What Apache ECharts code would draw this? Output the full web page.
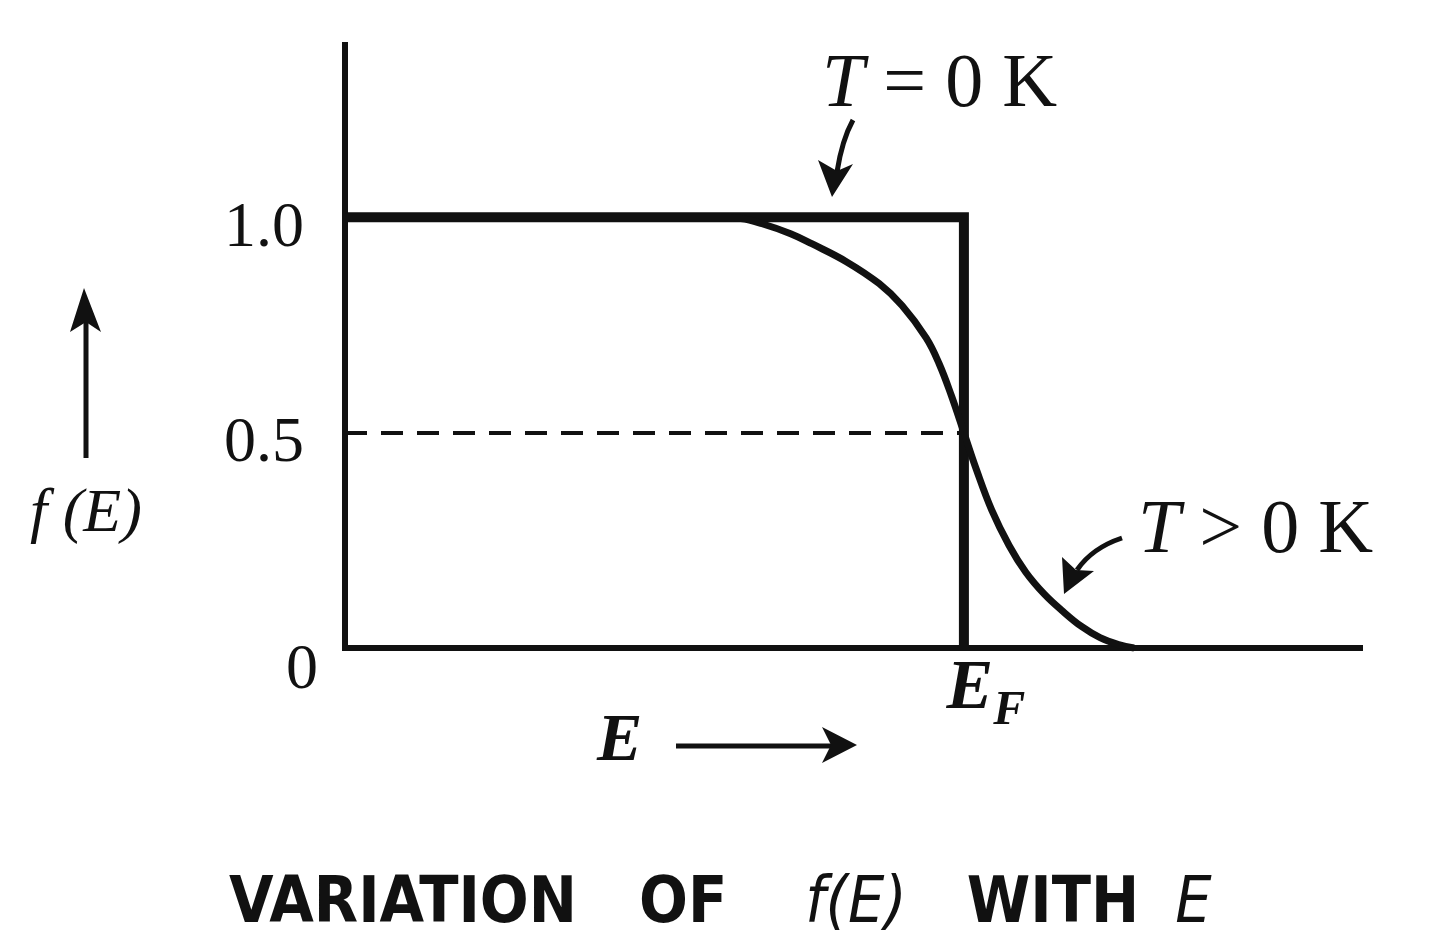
<!DOCTYPE html>
<html>
<head>
<meta charset="utf-8">
<title>VARIATION OF f(E) WITH E</title>
<script src="https://cdn.jsdelivr.net/npm/echarts@6/dist/echarts.min.js"></script>
<style>
  html, body { margin: 0; padding: 0; background: #fff; }
  #chart { width: 1440px; height: 944px; }
</style>
</head>
<body>
<div id="chart"></div>
<script>
// energy in units of the Fermi level
const fermiLevel = 1.0;
const energyMax = 1.64;
const occupancyMax = 1.4;

// T = 0 K : step
const stepEnergy = [0, 1.0, 1.0];
const stepOccupancy = [1.0, 1.0, 0];

// T > 0 K
const warmEnergy = [0, 0.45, 0.6, 0.64, 0.674, 0.72, 0.755, 0.81, 0.863, 0.9, 0.939, 0.96, 0.98, 1.0, 1.02, 1.045, 1.073, 1.1, 1.13, 1.16, 1.19, 1.22, 1.25, 1.275];
const warmOccupancy = [1.0, 1.0, 1.0, 0.997, 0.985, 0.962, 0.938, 0.897, 0.846, 0.795, 0.72, 0.66, 0.585, 0.5, 0.415, 0.32, 0.238, 0.176, 0.125, 0.085, 0.05, 0.024, 0.008, 0];

const yTicks = [0, 0.5, 1.0];
const halfLevel = 0.5;

const ink = '#111';
const serif = "'Liberation Serif', 'DejaVu Serif', serif";
const sans = "'DejaVu Sans Condensed', 'DejaVu Sans', sans-serif";

const chart = echarts.init(document.getElementById('chart'));

const zip = (xs, ys) => xs.map((x, i) => [x, ys[i]]);

// caption word style: font + gap after the word
const word = (gap, italic) => ({
	fontFamily: sans,
	fontSize: 64,
	fontWeight: italic ? 'normal' : 'bold',
	fontStyle: italic ? 'italic' : 'normal',
	color: ink,
	padding: [0, gap, 0, 0],
});

const option = {
	backgroundColor: '#fff',
	animation: false,
	title: {
		left: 224,
		top: 868,
		text: '{v|VARIATION}{o|OF}{fe|f(E)}{w|WITH}{e|E}',
		textStyle: {
			rich: {
				v: word(62, false),
				o: word(78, false),
				fe: word(60, true),
				w: word(36, false),
				e: word(0, true),
			},
		},
	},
	grid: {
		left: 345,
		right: 80,
		top: 45,
		bottom: 296,
	},
	xAxis: {
		type: 'value',
		min: 0,
		max: energyMax,
		axisLine: { show: true, lineStyle: { color: ink, width: 6, cap: 'square' } },
		axisTick: { show: false },
		splitLine: { show: false },
		axisLabel: {
			customValues: [fermiLevel],
			margin: -4,
			formatter: () => '{e|E}{s|F}',
			rich: {
				e: { fontFamily: serif, fontSize: 70, fontStyle: 'italic', fontWeight: 'bold', color: ink, padding: [0, 0, 0, 44] },
				s: { fontFamily: serif, fontSize: 48, fontStyle: 'italic', fontWeight: 'bold', color: ink, padding: [44, 0, 0, 0] },
			},
		},
	},
	yAxis: {
		type: 'value',
		min: 0,
		max: occupancyMax,
		axisLine: { show: true, lineStyle: { color: ink, width: 6, cap: 'square' } },
		axisTick: { show: false },
		splitLine: { show: false },
		axisLabel: {
			customValues: yTicks,
			margin: 27,
			formatter: (v) => (v === 0 ? '{z|0}' : '{n|' + v.toFixed(1) + '}'),
			rich: {
				n: { fontFamily: serif, fontSize: 64, color: ink, padding: [24, 14, 0, 0] },
				z: { fontFamily: serif, fontSize: 64, color: ink, padding: [46, 0, 0, 0] },
			},
		},
	},
	series: [
		{
			name: 'T = 0 K',
			type: 'line',
			data: zip(stepEnergy, stepOccupancy),
			showSymbol: false,
			clip: false,
			lineStyle: { color: ink, width: 10, join: 'miter' },
			markLine: {
				silent: true,
				symbol: 'none',
				label: { show: false },
				lineStyle: { color: ink, width: 4, type: [22, 14] },
				data: [[{ coord: [0, halfLevel] }, { coord: [fermiLevel, halfLevel] }]],
			},
		},
		{
			name: 'T > 0 K',
			type: 'line',
			data: zip(warmEnergy, warmOccupancy),
			showSymbol: false,
			clip: false,
			smooth: 0.4,
			lineStyle: { color: ink, width: 7 },
		},
	],
	graphic: [
		// y axis name with arrow
		{ type: 'line', shape: { x1: 86, y1: 458, x2: 86, y2: 322 }, style: { stroke: ink, lineWidth: 5 } },
		{ type: 'polygon', shape: { points: [[84, 288], [70, 332], [86, 322], [101, 332]] }, style: { fill: ink } },
		{
			type: 'text', left: 30, top: 484,
			style: { text: 'f (E)', font: 'italic 62px ' + serif, fill: ink },
		},
		// x axis name with arrow
		{
			type: 'text', left: 597, top: 708,
			style: { text: 'E', font: 'italic bold 68px ' + serif, fill: ink },
		},
		{ type: 'line', shape: { x1: 676, y1: 746, x2: 832, y2: 746 }, style: { stroke: ink, lineWidth: 5 } },
		{ type: 'polygon', shape: { points: [[857, 745], [822, 727], [831, 745], [822, 763]] }, style: { fill: ink } },
		// T = 0 K annotation
		{
			type: 'text', left: 822, top: 48,
			style: {
				text: '{i|T} = 0 K',
				rich: { i: { font: 'italic 76px ' + serif, fill: ink } },
				font: '76px ' + serif, fill: ink,
			},
		},
		{ type: 'bezierCurve', shape: { x1: 853, y1: 120, cpx1: 842, cpy1: 140, x2: 837, y2: 172 }, style: { stroke: ink, lineWidth: 5, fill: 'none' } },
		{ type: 'polygon', shape: { points: [[832, 197], [818, 160], [837, 171], [853, 164]] }, style: { fill: ink } },
		// T > 0 K annotation
		{
			type: 'text', left: 1138, top: 494,
			style: {
				text: '{i|T} > 0 K',
				rich: { i: { font: 'italic 76px ' + serif, fill: ink } },
				font: '76px ' + serif, fill: ink,
			},
		},
		{ type: 'bezierCurve', shape: { x1: 1122, y1: 538, cpx1: 1092, cpy1: 548, x2: 1077, y2: 570 }, style: { stroke: ink, lineWidth: 5, fill: 'none' } },
		{ type: 'polygon', shape: { points: [[1064, 594], [1062, 557], [1076, 570], [1094, 571]] }, style: { fill: ink } },
	],
};

chart.setOption(option);
</script>
</body>
</html>
